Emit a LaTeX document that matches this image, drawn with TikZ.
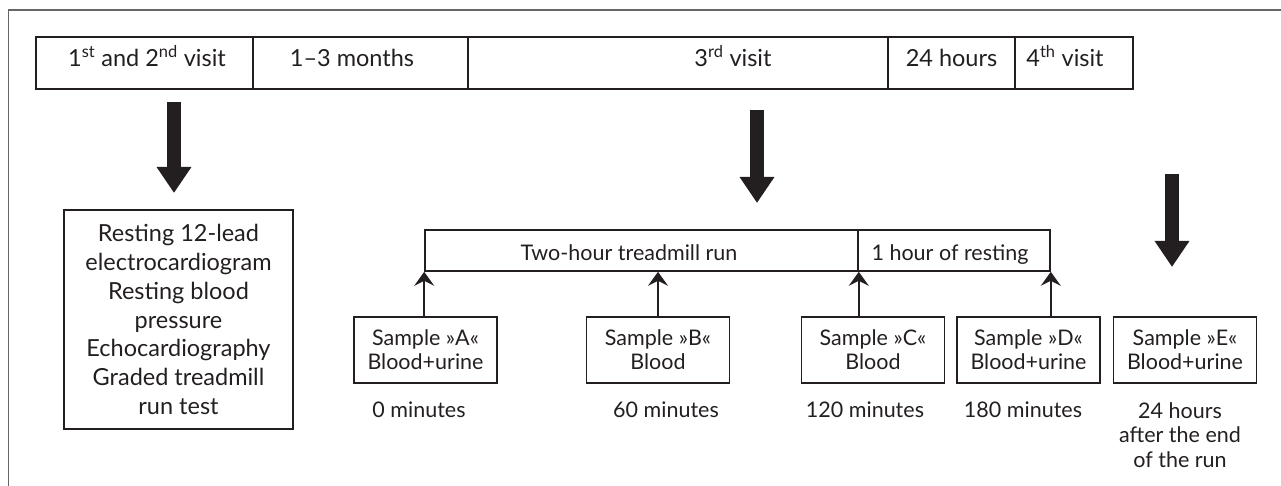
\documentclass[tikz,border=0pt]{standalone}
\usepackage{fontspec}
\setmainfont{Lato}
\usetikzlibrary{arrows.meta}
\definecolor{ink}{HTML}{231F20}
\begin{document}
\begin{tikzpicture}[x=1pt,y=-1pt,
  frame/.style={draw=black!60, line width=1.5pt},
  cell/.style={draw=ink, line width=1.3pt, minimum height=52pt, inner sep=0pt},
  bar/.style={draw=ink, line width=1.6pt, minimum height=41pt, inner sep=0pt},
  toptxt/.style={font=\fontsize{23.5}{28}\selectfont, text=ink, inner sep=0pt},
  txt/.style={font=\fontsize{21.5}{24}\selectfont, text=ink, inner sep=0pt},
  box/.style={draw=ink, line width=1.6pt, align=center, inner sep=0pt, text=ink},
  bigarrow/.style={draw=ink, line width=14pt, -{Triangle[width=33pt,length=26pt]}},
  smallarrow/.style={draw=ink, line width=1.6pt, -{Stealth[length=14pt,width=20pt,inset=5pt]}}
]
\useasboundingbox (0,0) rectangle (1281,486);
\draw[frame] (8.5,486) -- (8.5,10) -- (1281,10);

% top timeline bar
\node[cell, minimum width=217pt] (c1) at (144.5,63) {};
\node[cell, minimum width=215pt] (c2) at (360.5,63) {};
\node[cell, minimum width=420pt] (c3) at (678,63) {};
\node[cell, minimum width=127pt] (c4) at (951.5,63) {};
\node[cell, minimum width=118pt] (c5) at (1074,63) {};
\node[toptxt, anchor=base] (t1) at (147,67) {1\textsuperscript{st} and 2\textsuperscript{nd} visit};
\node[toptxt, anchor=base] (t2) at (352,67) {1–3 months};
\node[toptxt, anchor=base] (t3) at (733,67) {3\textsuperscript{rd} visit};
\node[toptxt, anchor=base] (t4) at (951.5,67) {24 hours};
\node[toptxt, anchor=base] (t5) at (1065,67) {4\textsuperscript{th} visit};

% big arrows
\coordinate (a1s) at (174,102);
\coordinate (a1e) at (174,193);
\coordinate (a2s) at (757,110);
\coordinate (a2e) at (757,203);
\coordinate (a3s) at (1172,174);
\coordinate (a3e) at (1172,267);
\draw[bigarrow] (a1s) -- (a1e);
\draw[bigarrow] (a2s) -- (a2e);
\draw[bigarrow] (a3s) -- (a3e);

% left box
\node[box, minimum width=229pt, minimum height=219pt, font=\fontsize{23.5}{28.7}\selectfont] (lb) at (178.5,319.5)
  {Resting 12-lead\\electrocardiogram\\Resting blood\\pressure\\Echocardiography\\Graded treadmill\\run test};

% treadmill bar
\node[bar, minimum width=433pt] (tr) at (641.5,250.5) {};
\node[bar, minimum width=192pt] (rest) at (954,250.5) {};
\node[txt, anchor=base] (trt) at (629,260) {Two-hour treadmill run};
\node[txt, anchor=base] (rst) at (950,260) {1 hour of resting};

% sample boxes
\tikzset{sbox/.style={box, minimum width=143pt, minimum height=66pt, font=\fontsize{21.5}{24}\selectfont}}
\node[sbox] (sa) at (425.5,350) {Sample »A«\\Blood+urine};
\node[sbox] (sb) at (658,350) {Sample »B«\\Blood};
\node[sbox] (sc) at (873,350) {Sample »C«\\Blood};
\node[sbox] (sd) at (1028.5,350) {Sample »D«\\Blood+urine};
\node[sbox] (se) at (1185,350) {Sample »E«\\Blood+urine};

% small arrows
\draw[smallarrow] (tr.south west |- sa.north) -- (tr.south west);
\draw[smallarrow] (sb.north) -- (sb.north |- tr.south);
\draw[smallarrow] (tr.south east |- sc.north) -- (tr.south east);
\draw[smallarrow] (rest.south east |- sd.north) -- (rest.south east);

% time labels
\node[txt, anchor=base] (la) at (419,417) {0 minutes};
\node[txt, anchor=base] (lb2) at (666,417) {60 minutes};
\node[txt, anchor=base] (lc) at (865,417) {120 minutes};
\node[txt, anchor=base] (ld) at (1023,417) {180 minutes};
\node[txt, anchor=north, align=center, font=\fontsize{21.5}{24.5}\selectfont] (le) at (1180,402) {24 hours\\after the end\\of the run};
\end{tikzpicture}
\end{document}
